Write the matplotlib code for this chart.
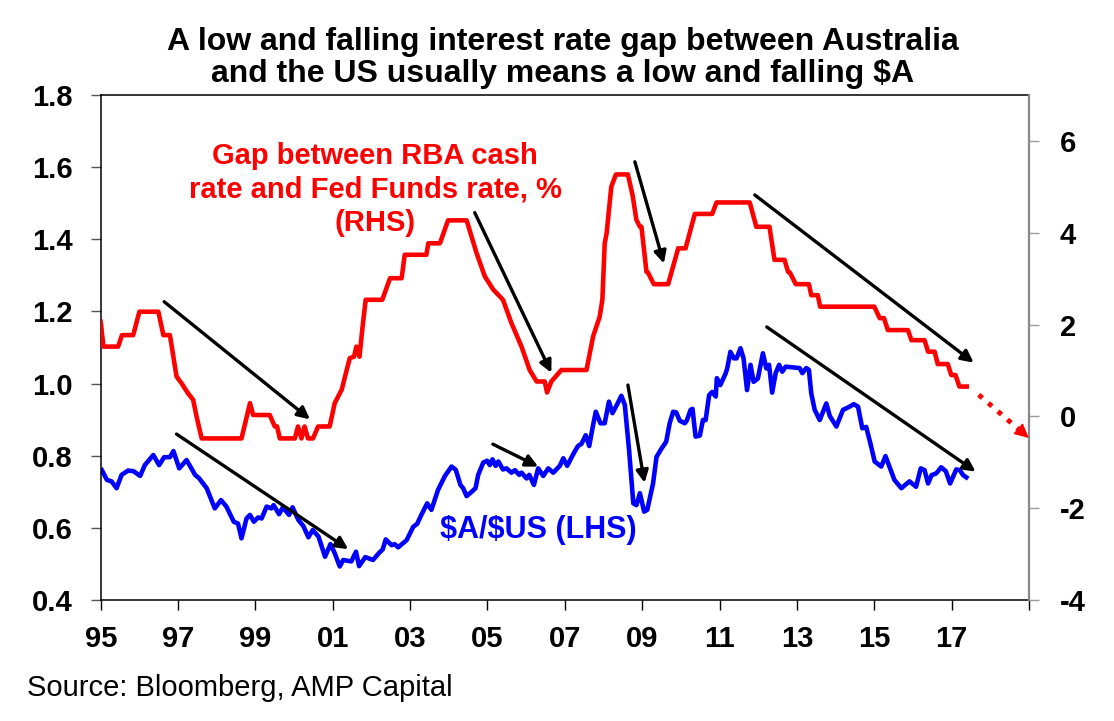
import matplotlib
matplotlib.use("Agg")
import matplotlib.pyplot as plt

plt.rcParams['font.family'] = ['Liberation Sans', 'DejaVu Sans']
plt.rcParams['font.weight'] = 'bold'
plt.rcParams['axes.unicode_minus'] = False

# Gap between RBA cash rate and Fed Funds rate, % (RHS)
gap_years = [1995.0, 1995.07, 1995.45, 1995.55, 1995.84, 1996.0, 1996.49, 1996.62, 1996.79,
             1996.96, 1997.09, 1997.26, 1997.39, 1997.48, 1997.61, 1998.64, 1998.86, 1998.94,
             1999.37, 1999.5, 1999.56, 1999.63, 2000.02, 2000.1, 2000.19, 2000.27, 2000.36,
             2000.49, 2000.62, 2000.92, 2001.05, 2001.23, 2001.36, 2001.44, 2001.55, 2001.61,
             2001.69, 2001.77, 2001.85, 2002.28, 2002.48, 2002.78, 2002.86, 2003.42, 2003.47,
             2003.77, 2003.98, 2004.46, 2004.72, 2004.93, 2005.15, 2005.40, 2005.62, 2005.88,
             2006.09, 2006.27, 2006.48, 2006.54, 2006.65, 2006.91, 2007.56, 2007.73, 2007.9,
             2007.97, 2008.03, 2008.08, 2008.2, 2008.32, 2008.63, 2008.75, 2008.85, 2008.94,
             2008.98, 2009.11, 2009.15, 2009.30, 2009.67, 2009.93, 2010.12, 2010.36, 2010.81,
             2010.92, 2011.78, 2011.95, 2012.29, 2012.42, 2012.68, 2012.77, 2012.82, 2012.97,
             2013.31, 2013.37, 2013.54, 2013.6, 2015.0, 2015.14, 2015.25, 2015.35, 2015.87,
             2015.96, 2016.30, 2016.39, 2016.56, 2016.64, 2016.9, 2016.99, 2017.1, 2017.2,
             2017.39]
gap_vals = [2.06, 1.52, 1.52, 1.77, 1.77, 2.28, 2.28, 1.77, 1.77,
            0.87, 0.72, 0.50, 0.36, -0.01, -0.48, -0.48, 0.29, 0.03,
            0.03, -0.22, -0.22, -0.48, -0.48, -0.22, -0.48, -0.22, -0.48,
            -0.48, -0.22, -0.22, 0.29, 0.58, 1.01, 1.27, 1.30, 1.52,
            1.30, 1.95, 2.54, 2.54, 3.01, 3.01, 3.52, 3.52, 3.77,
            3.77, 4.27, 4.27, 3.55, 3.05, 2.76, 2.54, 2.03, 1.52,
            1.01, 0.76, 0.76, 0.52, 0.76, 1.01, 1.01, 1.74, 2.17,
            2.54, 3.77, 3.99, 5.0, 5.27, 5.27, 4.82, 4.28, 4.13,
            4.13, 3.15, 3.13, 2.88, 2.88, 3.66, 3.66, 4.41, 4.41,
            4.66, 4.66, 4.13, 4.13, 3.41, 3.41, 3.15, 3.13, 2.88,
            2.88, 2.64, 2.64, 2.39, 2.39, 2.14, 2.14, 1.88, 1.88,
            1.66, 1.66, 1.41, 1.41, 1.14, 1.14, 0.90, 0.90, 0.65,
            0.65]

# $A/$US (LHS)
aud_years = [1995.03, 1995.16, 1995.28, 1995.41, 1995.54, 1995.71, 1995.85, 1996.02, 1996.14,
             1996.36, 1996.51, 1996.64, 1996.79, 1996.88, 1997.03, 1997.22, 1997.44, 1997.54,
             1997.74, 1997.95, 1998.11, 1998.25, 1998.44, 1998.55, 1998.64, 1998.77, 1998.86,
             1998.96, 1999.07, 1999.16, 1999.29, 1999.41, 1999.47, 1999.61, 1999.71, 1999.87,
             1999.96, 2000.11, 2000.24, 2000.37, 2000.48, 2000.63, 2000.80, 2000.94, 2001.05,
             2001.18, 2001.27, 2001.48, 2001.6, 2001.68, 2001.84, 2002.04, 2002.2, 2002.29,
             2002.37, 2002.52, 2002.6, 2002.69, 2002.91, 2003.08, 2003.18, 2003.29, 2003.44,
             2003.55, 2003.72, 2003.90, 2004.07, 2004.18, 2004.30, 2004.37, 2004.46, 2004.59,
             2004.69, 2004.76, 2004.89, 2004.99, 2005.06, 2005.13, 2005.21, 2005.28, 2005.4,
             2005.49, 2005.62, 2005.71, 2005.82, 2005.88, 2006.01, 2006.08, 2006.2, 2006.31,
             2006.44, 2006.57, 2006.7, 2006.87, 2006.96, 2007.06, 2007.23, 2007.34, 2007.43,
             2007.54, 2007.63, 2007.73, 2007.80, 2007.92, 2008.03, 2008.14, 2008.23, 2008.35,
             2008.46, 2008.55, 2008.66, 2008.77, 2008.85, 2008.94, 2009.05, 2009.13, 2009.28,
             2009.37, 2009.5, 2009.62, 2009.71, 2009.8, 2009.88, 2009.97, 2010.1, 2010.15,
             2010.25, 2010.3, 2010.38, 2010.49, 2010.57, 2010.64, 2010.73, 2010.81, 2010.9,
             2010.93, 2011.02, 2011.16, 2011.2, 2011.28, 2011.37, 2011.44, 2011.54, 2011.62,
             2011.71, 2011.8, 2011.88, 2011.99, 2012.12, 2012.21, 2012.28, 2012.36, 2012.45,
             2012.54, 2012.62, 2012.71, 2012.9, 2013.07, 2013.14, 2013.24, 2013.31, 2013.37,
             2013.46, 2013.59, 2013.76, 2013.85, 2014.02, 2014.19, 2014.36, 2014.47, 2014.58,
             2014.69, 2014.79, 2014.9, 2015.01, 2015.18, 2015.29, 2015.39, 2015.52, 2015.7,
             2015.91, 2016.08, 2016.2, 2016.3, 2016.39, 2016.48, 2016.6, 2016.73, 2016.85,
             2016.96, 2017.12, 2017.21, 2017.3, 2017.38]
aud_vals = [0.760, 0.733, 0.729, 0.710, 0.747, 0.759, 0.757, 0.744, 0.774,
            0.802, 0.774, 0.796, 0.796, 0.813, 0.765, 0.788, 0.747, 0.738,
            0.710, 0.654, 0.677, 0.659, 0.617, 0.612, 0.571, 0.626, 0.636,
            0.617, 0.629, 0.626, 0.659, 0.654, 0.663, 0.638, 0.657, 0.636,
            0.657, 0.622, 0.605, 0.574, 0.594, 0.576, 0.520, 0.555, 0.530,
            0.493, 0.511, 0.507, 0.534, 0.494, 0.519, 0.511, 0.531, 0.540,
            0.568, 0.552, 0.555, 0.546, 0.566, 0.603, 0.611, 0.636, 0.668,
            0.650, 0.705, 0.744, 0.770, 0.761, 0.719, 0.710, 0.688, 0.700,
            0.710, 0.747, 0.781, 0.786, 0.774, 0.790, 0.772, 0.784, 0.762,
            0.765, 0.753, 0.760, 0.747, 0.753, 0.737, 0.747, 0.719, 0.765,
            0.744, 0.765, 0.753, 0.772, 0.793, 0.772, 0.807, 0.827, 0.833,
            0.857, 0.827, 0.885, 0.922, 0.890, 0.890, 0.950, 0.918, 0.942,
            0.966, 0.941, 0.816, 0.668, 0.663, 0.696, 0.645, 0.650, 0.723,
            0.797, 0.820, 0.839, 0.890, 0.922, 0.920, 0.897, 0.890, 0.897,
            0.927, 0.930, 0.853, 0.856, 0.899, 0.899, 0.968, 0.977, 0.964,
            1.015, 0.996, 1.029, 1.043, 1.088, 1.070, 1.070, 1.098, 1.070,
            0.982, 1.052, 1.005, 1.014, 1.084, 1.042, 1.052, 0.975, 1.029,
            1.052, 1.033, 1.047, 1.045, 1.043, 1.029, 1.043, 1.038, 0.973,
            0.927, 0.899, 0.945, 0.910, 0.881, 0.927, 0.936, 0.943, 0.936,
            0.876, 0.880, 0.834, 0.784, 0.770, 0.799, 0.770, 0.733, 0.710,
            0.729, 0.714, 0.765, 0.760, 0.723, 0.746, 0.751, 0.768, 0.757,
            0.723, 0.762, 0.760, 0.746, 0.740]

# expected path of the gap (dotted, RHS units)
fcst_years = [2017.7, 2019.05]
fcst_vals = [0.47, -0.51]

# trend arrows (start year, start LHS value, end year, end LHS value)
arrows = [
    (1996.64, 1.227, 2000.41, 0.901),
    (1996.96, 0.860, 2001.40, 0.541),
    (2004.67, 1.474, 2006.65, 1.030),
    (2005.14, 0.832, 2006.31, 0.770),
    (2008.81, 1.615, 2009.56, 1.333),
    (2008.63, 0.996, 2009.06, 0.725),
    (2011.91, 1.523, 2017.57, 1.058),
    (2012.22, 1.157, 2017.62, 0.756),
]

xticks = list(range(1995, 2020, 2))
xlabels = ['95', '97', '99', '01', '03', '05', '07', '09', '11', '13', '15', '17', '']

fig = plt.figure(figsize=(11.14, 7.21), dpi=100)
ax = fig.add_axes([0.0904, 0.1678, 0.8333, 0.7004])
ax2 = ax.twinx()

ax.set_xlim(1995, 2019)
ax.set_ylim(0.4, 1.8)
ax2.set_ylim(-4, 7)

ax2.plot(gap_years, gap_vals, color='#FF0000', lw=3.3, solid_joinstyle='round')
ax.plot(aud_years, aud_vals, color='#0000FF', lw=3.3, solid_joinstyle='round')

# dotted forecast line with arrow head
ax2.plot(fcst_years[:1] + [fcst_years[1] - 0.25], [fcst_vals[0], fcst_vals[1] + 0.18],
         color='#FF0000', lw=3.5, linestyle=(0, (1, 1.6)), clip_on=False)
ax2.annotate('', xy=(fcst_years[1], fcst_vals[1]),
             xytext=(fcst_years[1] - 0.3, fcst_vals[1] + 0.22),
             arrowprops=dict(arrowstyle='-|>', color='#FF0000', lw=1, mutation_scale=22),
             annotation_clip=False)

for x0, y0, x1, y1 in arrows:
    ax2.annotate('', xy=(x1, y1), xytext=(x0, y0), xycoords=ax.transData,
                 textcoords=ax.transData,
                 arrowprops=dict(arrowstyle='-|>', color='black', lw=2.4,
                                 mutation_scale=18, shrinkA=0, shrinkB=0))

ax.set_xticks(xticks)
ax.set_xticklabels(xlabels)
ax.set_yticks([0.4, 0.6, 0.8, 1.0, 1.2, 1.4, 1.6, 1.8])
ax.set_yticklabels(['0.4', '0.6', '0.8', '1.0', '1.2', '1.4', '1.6', '1.8'])
ax2.set_yticks([-4, -2, 0, 2, 4, 6])

ax.tick_params(axis='x', direction='out', length=7, width=1, color='black',
               labelsize=21, pad=11)
ax.tick_params(axis='y', direction='out', length=7, width=1, color='#555555',
               labelsize=21, pad=13)
ax2.tick_params(axis='y', direction='out', length=7, width=1, color='#999999',
                labelsize=21, pad=15)

for s in ['top', 'left', 'bottom']:
    ax.spines[s].set_color('black')
    ax.spines[s].set_linewidth(1.1)
ax.spines['right'].set_visible(False)
for s in ['top', 'left', 'bottom']:
    ax2.spines[s].set_visible(False)
ax2.spines['right'].set_color('#888888')
ax2.spines['right'].set_linewidth(1.6)

ax.text(2002.09, 1.537, 'Gap between RBA cash\nrate and Fed Funds rate, %\n(RHS)',
        color='#FF0000', fontsize=21, ha='center', va='center', linespacing=1.25)
ax.text(2006.31, 0.594, r'\$A/\$US (LHS)', color='#0000FF', fontsize=22,
        ha='center', va='center')

fig.text(0.505, 0.92, 'A low and falling interest rate gap between Australia\n'
         r'and the US usually means a low and falling \$A',
         fontsize=23, ha='center', va='center', linespacing=1.08)
fig.text(0.024, 0.046, 'Source: Bloomberg, AMP Capital', fontsize=21,
         fontweight='normal', ha='left', va='center')

fig.savefig('out.png', dpi=100)
